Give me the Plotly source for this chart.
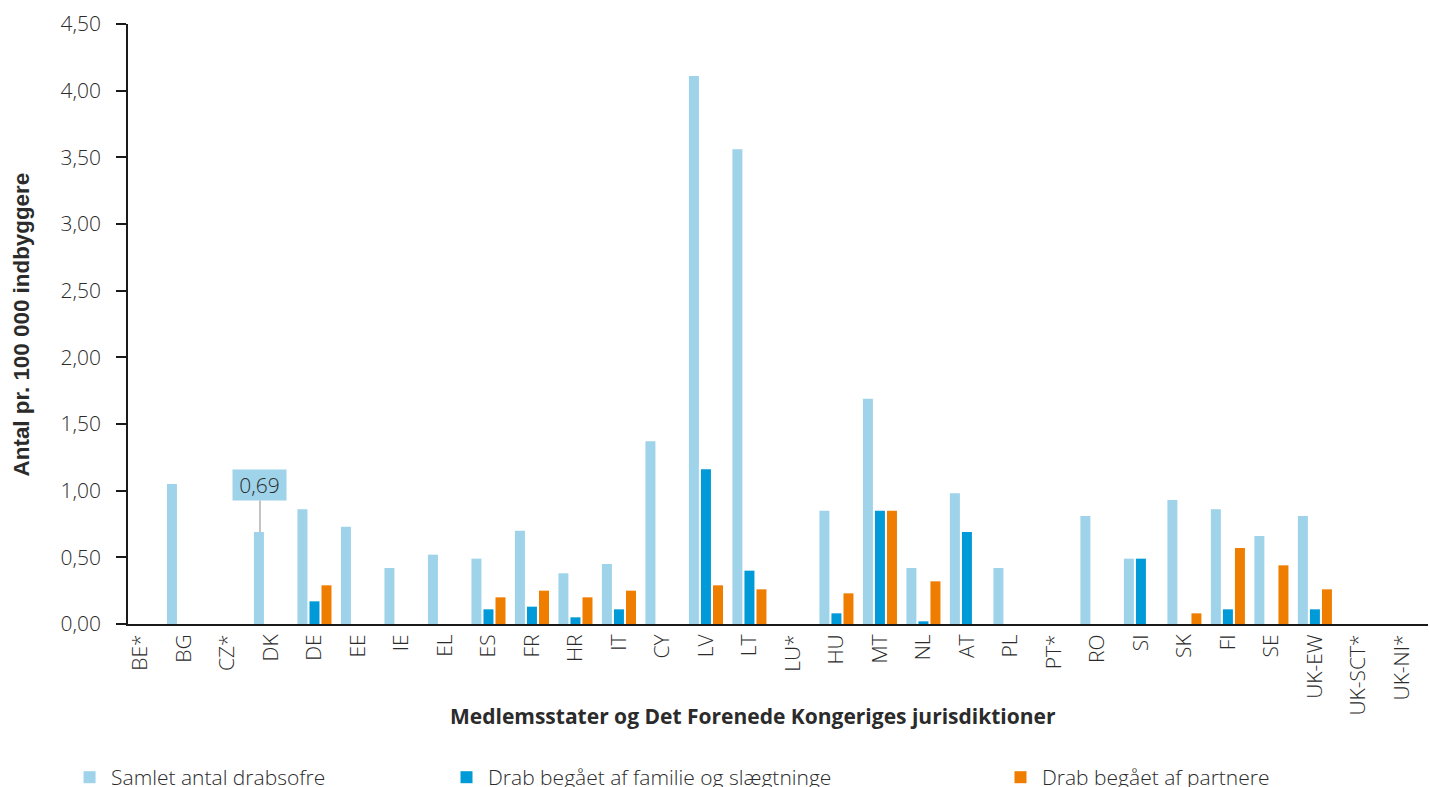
import plotly.graph_objects as go

categories = ["BE*", "BG", "CZ*", "DK", "DE", "EE", "IE", "EL", "ES", "FR", "HR", "IT", "CY", "LV", "LT",
              "LU*", "HU", "MT", "NL", "AT", "PL", "PT*", "RO", "SI", "SK", "FI", "SE", "UK-EW", "UK-SCT*", "UK-NI*"]

total = [None, 1.05, None, 0.69, 0.86, 0.73, 0.42, 0.52, 0.49, 0.70, 0.38, 0.45, 1.37, 4.11, 3.56,
         None, 0.85, 1.69, 0.42, 0.98, 0.42, None, 0.81, 0.49, 0.93, 0.86, 0.66, 0.81, None, None]
family = [None, None, None, None, 0.17, None, None, None, 0.11, 0.13, 0.05, 0.11, None, 1.16, 0.40,
          None, 0.08, 0.85, 0.02, 0.69, None, None, None, 0.49, None, 0.11, None, 0.11, None, None]
partner = [None, None, None, None, 0.29, None, None, None, 0.20, 0.25, 0.20, 0.25, None, 0.29, 0.26,
           None, 0.23, 0.85, 0.32, None, None, None, None, None, 0.08, 0.57, 0.44, 0.26, None, None]

series_names = ["Samlet antal drabsofre", "Drab begået af familie og slægtninge", "Drab begået af partnere"]
colors = ["#9ed3ea", "#009ad8", "#ef7d00"]

FONT = "Open Sans"
TXT = "#2b2b2b"

fig = go.Figure()
for name, vals, col, lg in zip(series_names, [total, family, partner], colors, ["legend", "legend2", "legend3"]):
    fig.add_trace(go.Bar(x=categories, y=vals, name=name, marker_color=col, marker_line_width=0,
                         legend=lg, showlegend=True, hoverinfo="skip"))

legend_common = dict(orientation="h", yanchor="middle", xanchor="left", y=0.012,
                     xref="container", yref="container", itemwidth=33,
                     font=dict(family=FONT, size=21, color=TXT, weight=300), bgcolor="rgba(0,0,0,0)")

fig.update_layout(
    width=1430, height=787,
    showlegend=True,
    margin=dict(l=128, r=2, t=24, b=163, autoexpand=False),
    paper_bgcolor="white", plot_bgcolor="white",
    barmode="group", bargap=0.17, bargroupgap=0.17,
    separators=",.",
    font=dict(family=FONT, color=TXT),
    legend=dict(x=0.0476, **legend_common),
    legend2=dict(x=0.3112, **legend_common),
    legend3=dict(x=0.6986, **legend_common),
    xaxis=dict(range=[-0.287, 29.6], showline=True, linecolor="#1a1a1a", linewidth=2,
               ticks="", tickangle=-90, tickfont=dict(family=FONT, size=21, color=TXT, weight=300),
               showgrid=False, zeroline=False, automargin=False),
    yaxis=dict(range=[0, 4.5], dtick=0.5, tickformat=".2f", showline=True, linecolor="#1a1a1a",
               linewidth=1.5, ticks="outside", ticklen=10, tickcolor="#1a1a1a", tickwidth=1.5,
               ticklabelstandoff=11,
               tickfont=dict(family=FONT, size=21, color=TXT, weight=300), showgrid=False,
               zeroline=False, automargin=False),
    annotations=[
        dict(text="<b>Antal pr. 100 000 indbyggere</b>", xref="paper", yref="paper",
             x=-0.082, y=0.5, textangle=-90, showarrow=False, xanchor="center", yanchor="middle",
             font=dict(family="Liberation Sans", size=22.4, color=TXT)),
        dict(text="<b>Medlemsstater og Det Forenede Kongeriges jurisdiktioner</b>", xref="paper",
             yref="paper", x=0.481, y=-0.153, showarrow=False, xanchor="center", yanchor="middle",
             font=dict(family=FONT, size=21, color=TXT)),
        dict(text="0,69", x="DK", y=0.69, xref="x", yref="y", xshift=-11,
             showarrow=True, arrowhead=0, arrowwidth=1.5, arrowcolor="#b0b0b0", ax=0, ay=-47,
             width=47, height=24,
             bgcolor="#9ed3ea", borderpad=3, font=dict(family=FONT, size=21, color=TXT, weight=300)),
    ],
)

fig.write_html("out.html", post_script="document.body.style.margin='0';",
               config={"displayModeBar": False})
